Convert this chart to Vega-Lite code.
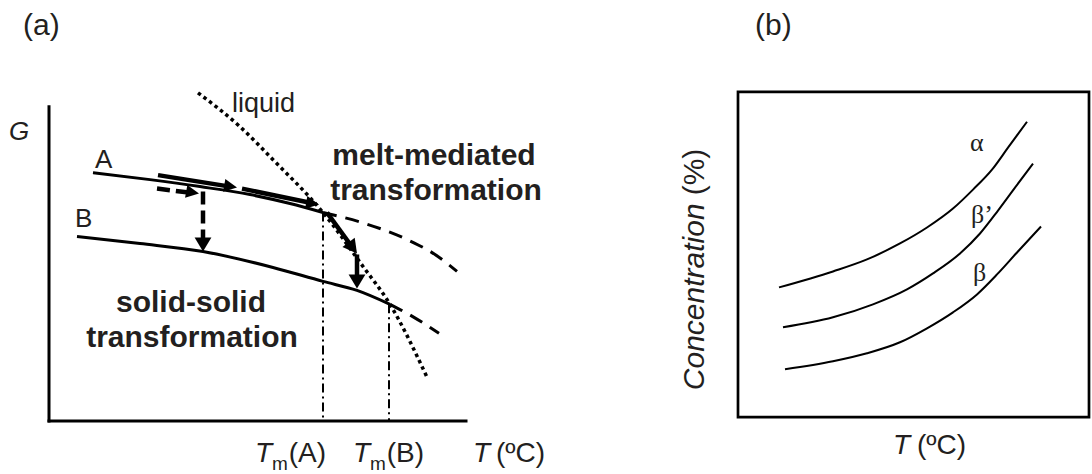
{
 "$schema": "https://vega.github.io/schema/vega-lite/v6.json",
 "width": 1092, "height": 474,
 "autosize": {"type": "fit", "contains": "padding"},
 "padding": 0,
 "background": "white",
 "config": {"view": {"stroke": null}, "text": {"font": "Liberation Sans", "color": "#231f20"}},
 "datasets": {
  "frame": [
   {"part": "G axis", "x": 49, "y": 107, "x2": 49, "y2": 422},
   {"part": "T axis", "x": 49, "y": 422, "x2": 466, "y2": 422}
  ],
  "box": [{"x": 738, "y": 92, "x2": 1089, "y2": 418}],
  "melting": [
   {"p": "Tm(A)", "x": 323, "y": 213, "x2": 323, "y2": 422},
   {"p": "Tm(B)", "x": 389, "y": 305, "x2": 389, "y2": 422}
  ],
  "curves": [
   {"s": "A", "i": 0, "x": 93, "y": 173}, {"s": "A", "i": 1, "x": 150, "y": 180}, {"s": "A", "i": 2, "x": 200, "y": 187},
   {"s": "A", "i": 3, "x": 250, "y": 195}, {"s": "A", "i": 4, "x": 290, "y": 204}, {"s": "A", "i": 5, "x": 323, "y": 213},
   {"s": "Ad", "i": 0, "x": 323, "y": 213}, {"s": "Ad", "i": 1, "x": 365, "y": 224}, {"s": "Ad", "i": 2, "x": 407, "y": 240},
   {"s": "Ad", "i": 3, "x": 435, "y": 255}, {"s": "Ad", "i": 4, "x": 457, "y": 272},
   {"s": "B", "i": 0, "x": 77, "y": 237}, {"s": "B", "i": 1, "x": 140, "y": 244}, {"s": "B", "i": 2, "x": 203, "y": 252},
   {"s": "B", "i": 3, "x": 273, "y": 268}, {"s": "B", "i": 4, "x": 323, "y": 282}, {"s": "B", "i": 5, "x": 357, "y": 291},
   {"s": "B", "i": 6, "x": 390, "y": 305},
   {"s": "Bd", "i": 0, "x": 390, "y": 305}, {"s": "Bd", "i": 1, "x": 414, "y": 318}, {"s": "Bd", "i": 2, "x": 439, "y": 334},
   {"s": "L", "i": 0, "x": 198, "y": 93}, {"s": "L", "i": 1, "x": 240, "y": 127}, {"s": "L", "i": 2, "x": 273, "y": 160},
   {"s": "L", "i": 3, "x": 323, "y": 213}, {"s": "L", "i": 4, "x": 363, "y": 267}, {"s": "L", "i": 5, "x": 390, "y": 305},
   {"s": "L", "i": 6, "x": 427, "y": 378},
   {"s": "alpha", "i": 0, "x": 779, "y": 288}, {"s": "alpha", "i": 1, "x": 833, "y": 272}, {"s": "alpha", "i": 2, "x": 867, "y": 260},
   {"s": "alpha", "i": 3, "x": 900, "y": 244}, {"s": "alpha", "i": 4, "x": 927, "y": 228}, {"s": "alpha", "i": 5, "x": 953, "y": 209},
   {"s": "alpha", "i": 6, "x": 973, "y": 190}, {"s": "alpha", "i": 7, "x": 992, "y": 170}, {"s": "alpha", "i": 8, "x": 1008, "y": 148},
   {"s": "alpha", "i": 9, "x": 1027, "y": 122},
   {"s": "betap", "i": 0, "x": 783, "y": 328}, {"s": "betap", "i": 1, "x": 833, "y": 318}, {"s": "betap", "i": 2, "x": 873, "y": 305},
   {"s": "betap", "i": 3, "x": 907, "y": 290}, {"s": "betap", "i": 4, "x": 933, "y": 274}, {"s": "betap", "i": 5, "x": 960, "y": 254},
   {"s": "betap", "i": 6, "x": 980, "y": 234}, {"s": "betap", "i": 7, "x": 998, "y": 211}, {"s": "betap", "i": 8, "x": 1015, "y": 188},
   {"s": "betap", "i": 9, "x": 1033, "y": 164},
   {"s": "beta", "i": 0, "x": 785, "y": 370}, {"s": "beta", "i": 1, "x": 833, "y": 362}, {"s": "beta", "i": 2, "x": 867, "y": 354},
   {"s": "beta", "i": 3, "x": 900, "y": 343}, {"s": "beta", "i": 4, "x": 927, "y": 329}, {"s": "beta", "i": 5, "x": 953, "y": 313},
   {"s": "beta", "i": 6, "x": 977, "y": 295}, {"s": "beta", "i": 7, "x": 997, "y": 275}, {"s": "beta", "i": 8, "x": 1017, "y": 253},
   {"s": "beta", "i": 9, "x": 1041, "y": 227}
  ],
  "arrows": [
   {"a": "s1", "kind": "solid", "i": 0, "x": 158, "y": 175.5}, {"a": "s1", "kind": "solid", "i": 1, "x": 227, "y": 186.5},
   {"a": "s2", "kind": "solid", "i": 0, "x": 242, "y": 189}, {"a": "s2", "kind": "solid", "i": 1, "x": 309, "y": 203},
   {"a": "m1", "kind": "solid", "i": 0, "x": 327, "y": 213}, {"a": "m1", "kind": "solid", "i": 1, "x": 351, "y": 246},
   {"a": "m2", "kind": "solid", "i": 0, "x": 357, "y": 255}, {"a": "m2", "kind": "solid", "i": 1, "x": 357, "y": 277},
   {"a": "d1", "kind": "dash", "i": 0, "x": 157, "y": 189}, {"a": "d1", "kind": "dash", "i": 1, "x": 189, "y": 193},
   {"a": "d2", "kind": "dash", "i": 0, "x": 203, "y": 192}, {"a": "d2", "kind": "dash", "i": 1, "x": 203, "y": 240}
  ],
  "heads": [
   {"a": "s1", "dir": "along", "x": 237, "y": 188},
   {"a": "s2", "dir": "along", "x": 319, "y": 205},
   {"a": "d1", "dir": "along", "x": 199, "y": 194},
   {"a": "m1", "dir": "diag", "x": 357, "y": 254},
   {"a": "d2", "dir": "down", "x": 203, "y": 252},
   {"a": "m2", "dir": "down", "x": 357, "y": 289}
  ],
  "labels": [
   {"t": "(a)", "x": 23, "y": 35, "g": "panel"},
   {"t": "(b)", "x": 755, "y": 35, "g": "panel"},
   {"t": "G", "x": 9, "y": 140, "g": "G"},
   {"t": "liquid", "x": 232, "y": 112, "g": "liquid"},
   {"t": "A", "x": 95, "y": 168, "g": "AB"},
   {"t": "B", "x": 75, "y": 227, "g": "AB"},
   {"t": "melt-mediated", "x": 434, "y": 165, "g": "bold"},
   {"t": "transformation", "x": 436, "y": 200, "g": "bold"},
   {"t": "solid-solid", "x": 191, "y": 313, "g": "bold"},
   {"t": "transformation", "x": 192, "y": 348, "g": "bold"},
   {"t": "T", "x": 255, "y": 463, "g": "T"},
   {"t": "m", "x": 272, "y": 471, "g": "sub"},
   {"t": "(A)", "x": 326, "y": 463, "g": "unit"},
   {"t": "T", "x": 353, "y": 463, "g": "T"},
   {"t": "m", "x": 370, "y": 471, "g": "sub"},
   {"t": "(B)", "x": 424, "y": 463, "g": "unit"},
   {"t": "T", "x": 473, "y": 463, "g": "T"},
   {"t": "(ºC)", "x": 545, "y": 463, "g": "unit"},
   {"t": "T", "x": 893, "y": 455, "g": "T"},
   {"t": "(ºC)", "x": 966, "y": 455, "g": "unit"},
   {"t": "Concentration", "x": 704, "y": 391, "g": "rotI"},
   {"t": "(%)", "x": 704, "y": 149, "g": "rotR"},
   {"t": "α", "x": 970, "y": 151, "g": "greek"},
   {"t": "β’", "x": 971, "y": 223, "g": "greek"},
   {"t": "β", "x": 973, "y": 282, "g": "greek"}
  ]
 },
 "encoding": {
  "x": {"field": "x", "type": "quantitative", "scale": {"domain": [0, 1092], "nice": false, "zero": false}, "axis": null},
  "y": {"field": "y", "type": "quantitative", "scale": {"domain": [474, 0], "nice": false, "zero": false}, "axis": null}
 },
 "layer": [
  {"data": {"name": "frame"}, "mark": {"type": "rule", "color": "black", "strokeWidth": 3, "strokeCap": "square"},
   "encoding": {"x2": {"field": "x2"}, "y2": {"field": "y2"}}},
  {"data": {"name": "box"}, "mark": {"type": "rect", "fill": "transparent", "stroke": "black", "strokeWidth": 2.7},
   "encoding": {"x2": {"field": "x2"}, "y2": {"field": "y2"}}},
  {"data": {"name": "melting"}, "mark": {"type": "rule", "color": "black", "strokeWidth": 2, "strokeDash": [9, 4, 2, 4]},
   "encoding": {"x2": {"field": "x2"}, "y2": {"field": "y2"}}},
  {"data": {"name": "curves"}, "transform": [{"filter": {"field": "s", "oneOf": ["A", "B"]}}],
   "mark": {"type": "line", "color": "black", "strokeWidth": 3, "interpolate": "monotone"},
   "encoding": {"detail": {"field": "s"}, "order": {"field": "i"}}},
  {"data": {"name": "curves"}, "transform": [{"filter": {"field": "s", "oneOf": ["Ad", "Bd"]}}],
   "mark": {"type": "line", "color": "black", "strokeWidth": 3, "strokeDash": [14, 9], "interpolate": "monotone"},
   "encoding": {"detail": {"field": "s"}, "order": {"field": "i"}}},
  {"data": {"name": "curves"}, "transform": [{"filter": {"field": "s", "equal": "L"}}],
   "mark": {"type": "line", "color": "black", "strokeWidth": 3.5, "strokeDash": [3.5, 3.5], "interpolate": "monotone"},
   "encoding": {"detail": {"field": "s"}, "order": {"field": "i"}}},
  {"data": {"name": "curves"}, "transform": [{"filter": {"field": "s", "oneOf": ["alpha", "betap", "beta"]}}],
   "mark": {"type": "line", "color": "black", "strokeWidth": 2, "interpolate": "monotone"},
   "encoding": {"detail": {"field": "s"}, "order": {"field": "i"}}},
  {"data": {"name": "arrows"}, "transform": [{"filter": {"field": "kind", "equal": "solid"}}],
   "mark": {"type": "line", "color": "black", "strokeWidth": 4.5},
   "encoding": {"detail": {"field": "a"}, "order": {"field": "i"}}},
  {"data": {"name": "arrows"}, "transform": [{"filter": {"field": "kind", "equal": "dash"}}],
   "mark": {"type": "line", "color": "black", "strokeWidth": 4.5, "strokeDash": [13, 6]},
   "encoding": {"detail": {"field": "a"}, "order": {"field": "i"}}},
  {"data": {"name": "heads"}, "transform": [{"filter": {"field": "dir", "equal": "along"}}],
   "mark": {"type": "point", "shape": "M0,0L-2,-1L-2,1Z", "size": 169, "angle": 10, "filled": true, "color": "black", "opacity": 1, "strokeWidth": 0}},
  {"data": {"name": "heads"}, "transform": [{"filter": {"field": "dir", "equal": "diag"}}],
   "mark": {"type": "point", "shape": "M0,0L-2,-1.1L-2,1.1Z", "size": 196, "angle": 53, "filled": true, "color": "black", "opacity": 1, "strokeWidth": 0}},
  {"data": {"name": "heads"}, "transform": [{"filter": {"field": "dir", "equal": "down"}}],
   "mark": {"type": "point", "shape": "M0,0L-2,-1.2L-2,1.2Z", "size": 196, "angle": 90, "filled": true, "color": "black", "opacity": 1, "strokeWidth": 0}},
  {"data": {"name": "labels"}, "transform": [{"filter": {"field": "g", "equal": "panel"}}],
   "mark": {"type": "text", "fontSize": 30, "align": "left", "baseline": "alphabetic"}, "encoding": {"text": {"field": "t"}}},
  {"data": {"name": "labels"}, "transform": [{"filter": {"field": "g", "equal": "G"}}],
   "mark": {"type": "text", "fontSize": 26, "fontStyle": "italic", "align": "left", "baseline": "alphabetic"}, "encoding": {"text": {"field": "t"}}},
  {"data": {"name": "labels"}, "transform": [{"filter": {"field": "g", "equal": "liquid"}}],
   "mark": {"type": "text", "fontSize": 27, "align": "left", "baseline": "alphabetic"}, "encoding": {"text": {"field": "t"}}},
  {"data": {"name": "labels"}, "transform": [{"filter": {"field": "g", "equal": "AB"}}],
   "mark": {"type": "text", "fontSize": 26, "align": "left", "baseline": "alphabetic"}, "encoding": {"text": {"field": "t"}}},
  {"data": {"name": "labels"}, "transform": [{"filter": {"field": "g", "equal": "bold"}}],
   "mark": {"type": "text", "fontSize": 30, "fontWeight": "bold", "align": "center", "baseline": "alphabetic"}, "encoding": {"text": {"field": "t"}}},
  {"data": {"name": "labels"}, "transform": [{"filter": {"field": "g", "equal": "T"}}],
   "mark": {"type": "text", "fontSize": 28, "fontStyle": "italic", "align": "left", "baseline": "alphabetic"}, "encoding": {"text": {"field": "t"}}},
  {"data": {"name": "labels"}, "transform": [{"filter": {"field": "g", "equal": "sub"}}],
   "mark": {"type": "text", "fontSize": 19, "align": "left", "baseline": "alphabetic"}, "encoding": {"text": {"field": "t"}}},
  {"data": {"name": "labels"}, "transform": [{"filter": {"field": "g", "equal": "unit"}}],
   "mark": {"type": "text", "fontSize": 28, "align": "right", "baseline": "alphabetic"}, "encoding": {"text": {"field": "t"}}},
  {"data": {"name": "labels"}, "transform": [{"filter": {"field": "g", "equal": "rotI"}}],
   "mark": {"type": "text", "fontSize": 30, "fontStyle": "italic", "angle": 270, "align": "left", "baseline": "alphabetic"}, "encoding": {"text": {"field": "t"}}},
  {"data": {"name": "labels"}, "transform": [{"filter": {"field": "g", "equal": "rotR"}}],
   "mark": {"type": "text", "fontSize": 30, "angle": 270, "align": "right", "baseline": "alphabetic"}, "encoding": {"text": {"field": "t"}}},
  {"data": {"name": "labels"}, "transform": [{"filter": {"field": "g", "equal": "greek"}}],
   "mark": {"type": "text", "fontSize": 26, "font": "Liberation Serif", "align": "left", "baseline": "alphabetic"}, "encoding": {"text": {"field": "t"}}}
 ]
}
